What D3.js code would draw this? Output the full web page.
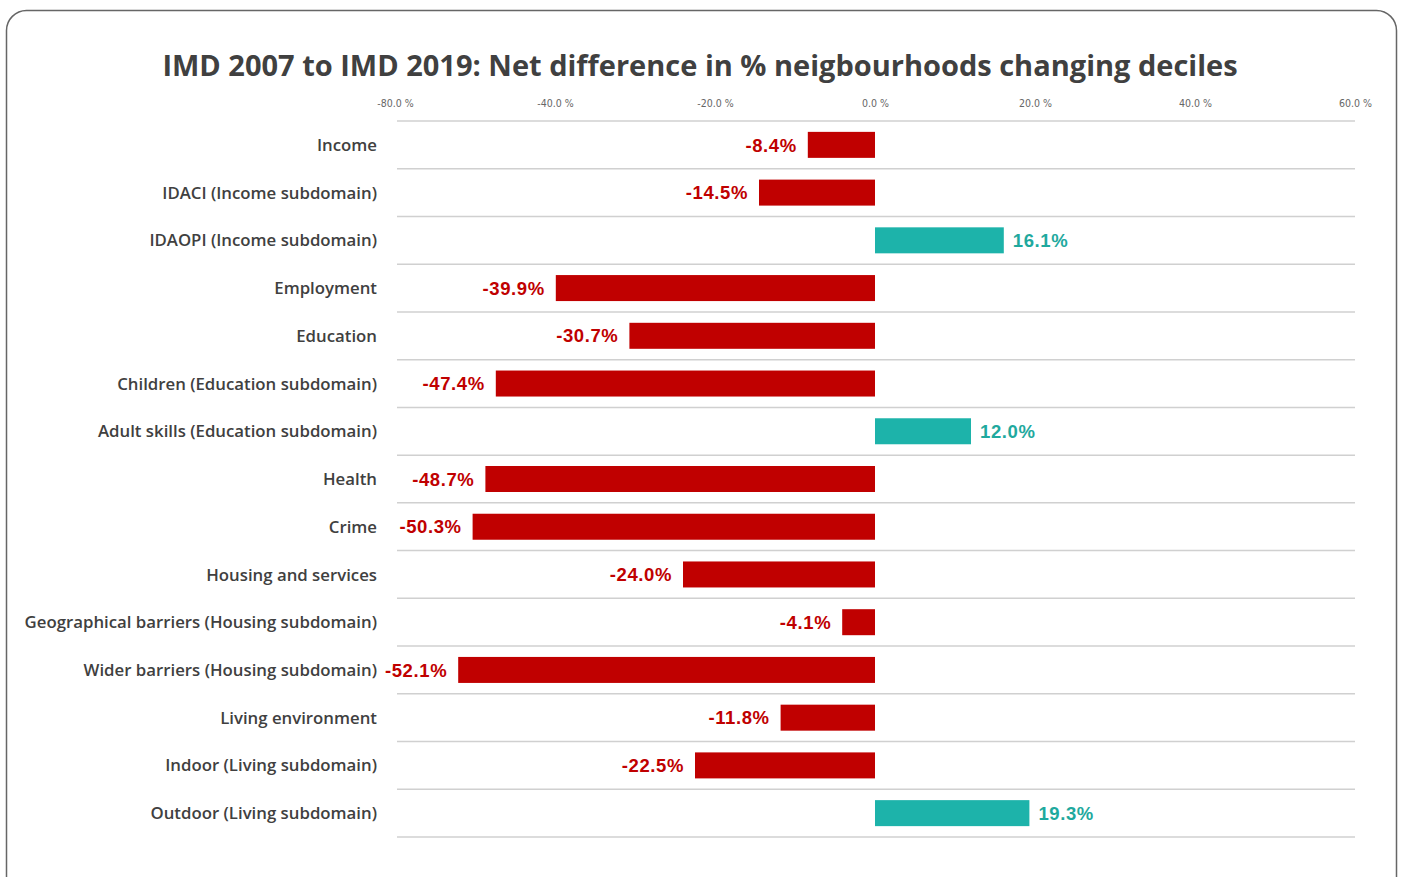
<!DOCTYPE html>
<html>
<head>
<meta charset="utf-8">
<script src="https://cdn.jsdelivr.net/npm/d3@7"></script>
<style>
  body { margin: 0; background: #fff; }
</style>
</head>
<body>
<div id="chart"></div>
<script>
// domains and their net difference (%) between IMD 2007 and IMD 2019
const categories = [
    "Income",
    "IDACI (Income subdomain)",
    "IDAOPI  (Income subdomain)",
    "Employment",
    "Education",
    "Children (Education subdomain)",
    "Adult skills (Education subdomain)",
    "Health",
    "Crime",
    "Housing and services",
    "Geographical barriers (Housing subdomain)",
    "Wider barriers (Housing subdomain)",
    "Living environment",
    "Indoor (Living subdomain)",
    "Outdoor (Living subdomain)"
];
const values = [-8.4, -14.5, 16.1, -39.9, -30.7, -47.4, 12.0, -48.7, -50.3, -24.0, -4.1, -52.1, -11.8, -22.5, 19.3];
const valueLabels = ["-8.4%", "-14.5%", "16.1%", "-39.9%", "-30.7%", "-47.4%", "12.0%", "-48.7%", "-50.3%", "-24.0%", "-4.1%", "-52.1%", "-11.8%", "-22.5%", "19.3%"];
// the top axis, as printed (first label reads -80.0 % in the original)
const tickValues = [-60, -40, -20, 0, 20, 40, 60];
const tickLabels = ["-80.0 %", "-40.0 %", "-20.0 %", "0.0 %", "20.0 %", "40.0 %", "60.0 %"];

const W = 1403, H = 877;
const red = "#c00000", teal = "#1db3aa";

const svg = d3.select("#chart").append("svg")
    .attr("width", W)
    .attr("height", H);

// card frame
svg.append("rect")
    .attr("x", 6.5).attr("y", 10.5)
    .attr("width", 1390).attr("height", 900)
    .attr("rx", 20)
    .attr("fill", "#fff")
    .attr("stroke", "#666")
    .attr("stroke-width", 1.5);

svg.append("text")
    .attr("x", 700).attr("y", 76)
    .attr("text-anchor", "middle")
    .attr("font-family", "'Open Sans', sans-serif")
    .attr("font-weight", 700)
    .attr("font-size", 29)
    .attr("fill", "#404040")
    .text("IMD 2007 to IMD 2019: Net difference in % neigbourhoods changing deciles");

const x = d3.scaleLinear().domain([-60, 60]).range([395, 1355]);
const y = d3.scaleBand().domain(categories).range([121, 837]).paddingInner(0).paddingOuter(0);
const barH = 26;

// top axis labels
const xAxis = svg.append("g")
    .attr("transform", "translate(0,110)")
    .call(d3.axisTop(x).tickValues(tickValues).tickFormat((d, i) => tickLabels[i]).tickSize(0));
xAxis.select(".domain").remove();
xAxis.selectAll("text")
    .attr("font-family", "'Liberation Sans Narrow', 'DejaVu Sans Condensed', sans-serif")
    .attr("font-size", 10.5)
    .attr("fill", "#666");

// row separators
const lines = [y.range()[0]].concat(categories.map(c => y(c) + y.bandwidth()));
svg.append("g").selectAll("line")
    .data(lines)
    .enter().append("line")
    .attr("x1", x(-60) + 2)
    .attr("x2", x(60))
    .attr("y1", d => d)
    .attr("y2", d => d)
    .attr("stroke", "#d0d0d0")
    .attr("stroke-width", 1.5);

// bars
svg.append("g").selectAll("rect")
    .data(values)
    .enter().append("rect")
    .attr("x", d => x(Math.min(0, d)))
    .attr("width", d => Math.abs(x(d) - x(0)))
    .attr("y", (d, i) => y(categories[i]) + (y.bandwidth() - barH) / 2)
    .attr("height", barH)
    .attr("fill", d => d < 0 ? red : teal);

// value labels
svg.append("g").selectAll("text")
    .data(values)
    .enter().append("text")
    .attr("x", d => d < 0 ? x(d) - 11 : x(d) + 9)
    .attr("y", (d, i) => y(categories[i]) + y.bandwidth() / 2)
    .attr("dy", "0.36em")
    .attr("text-anchor", d => d < 0 ? "end" : "start")
    .attr("font-family", "'Liberation Sans', Arial, sans-serif")
    .attr("font-weight", 700)
    .attr("font-size", 18.5)
    .attr("letter-spacing", 0.6)
    .attr("fill", d => d < 0 ? red : "#1fa99e")
    .text((d, i) => valueLabels[i]);

// category labels
svg.append("g").selectAll("text")
    .data(categories)
    .enter().append("text")
    .attr("x", 377)
    .attr("y", d => y(d) + y.bandwidth() / 2)
    .attr("dy", "0.36em")
    .attr("text-anchor", "end")
    .attr("font-family", "'Open Sans', sans-serif")
    .attr("font-weight", 600)
    .attr("font-size", 16.8)
    .attr("fill", "#404040")
    .text(d => d);
</script>
</body>
</html>
